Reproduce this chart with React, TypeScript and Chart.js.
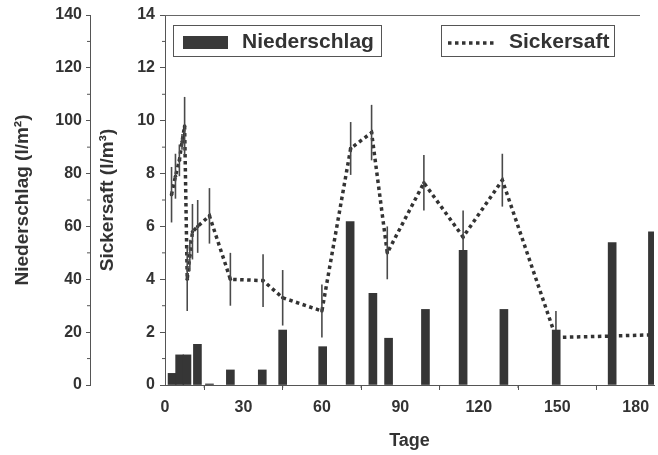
import React, { useEffect, useRef } from 'react';
import { Chart, registerables } from 'chart.js';

Chart.register(...registerables);

// Sickersaft (l/m³), dotted line with error bars
const sickerDays = [2.5, 4, 5.5, 6.5, 7.5, 8.5, 9.5, 10.5, 12.5, 17, 25, 37.5, 45, 60, 71, 79, 85, 99, 114, 129, 149.5, 170, 187];
const sickerValues = [7.2, 7.9, 8.5, 9.2, 9.8, 4.0, 4.9, 5.8, 6.0, 6.4, 4.0, 3.95, 3.3, 2.8, 8.95, 9.55, 5.0, 7.65, 5.6, 7.75, 1.8, 1.85, 1.9];
const sickerErrors = [1.05, 0.85, 0.6, 0.3, 1.1, 1.2, 0.6, 1.05, 1.0, 1.05, 1.0, 1.0, 1.05, 1.0, 1.0, 1.05, 1.0, 1.05, 1.0, 1.0, 1.0, 0, 0];

// Niederschlag (l/m²), bars
const rainDays = [2.7, 5.6, 8.4, 12.4, 17, 25, 37.2, 45, 60.3, 70.8, 79.5, 85.5, 99.6, 114, 129.6, 149.6, 171, 186.4];
const rainValues = [4.4, 11.4, 11.4, 15.4, 0.4, 5.7, 5.7, 20.8, 14.5, 61.8, 34.7, 17.7, 28.6, 51, 28.6, 20.8, 53.9, 58];

// Ticks
const dayTicks = [0, 30, 60, 90, 120, 150, 180];
const dayMinorTicks = [15, 45, 75, 105, 135, 165];
const sickerTicks = [0, 2, 4, 6, 8, 10, 12, 14];
const sickerMinorTicks = [1, 3, 5, 7, 9, 11, 13];
const rainTicks = [0, 20, 40, 60, 80, 100, 120, 140];
const rainMinorTicks = [10, 30, 50, 70, 90, 110, 130];

const labels = { rain: 'Niederschlag', sicker: 'Sickersaft', x: 'Tage', rainAxis: 'Niederschlag (l/m²)', sickerAxis: 'Sickersaft (l/m³)' };

const INK = '#333333';
const FONT = "'Liberation Sans', Arial, sans-serif";

const errorBarPlugin = {
  id: 'errorBars',
  afterDatasetDraw(chart: any, args: any) {
    if (args.index !== 1) return;
    const y = chart.scales.y;
    const ctx = chart.ctx;
    ctx.save();
    ctx.strokeStyle = '#4a4a4a';
    ctx.lineWidth = 1.6;
    args.meta.data.forEach((pt: any, i: number) => {
      const e = sickerErrors[i];
      if (!e) return;
      const v = sickerValues[i];
      ctx.beginPath();
      ctx.moveTo(pt.x, y.getPixelForValue(v + e));
      ctx.lineTo(pt.x, y.getPixelForValue(v - e));
      ctx.stroke();
    });
    ctx.restore();
  },
};

const decorPlugin = {
  id: 'decor',
  afterDraw(chart: any) {
    const ctx = chart.ctx;
    const { left, top, bottom } = chart.chartArea;
    const x = chart.scales.x;
    const y = chart.scales.y;
    const y2 = chart.scales.y2;
    ctx.save();
    // top frame line
    ctx.strokeStyle = '#666666';
    ctx.lineWidth = 1;
    ctx.beginPath();
    ctx.moveTo(left, top + 0.5);
    ctx.lineTo(640, top + 0.5);
    ctx.stroke();
    // minor ticks
    ctx.strokeStyle = '#555555';
    ctx.lineWidth = 1;
    dayMinorTicks.forEach((d) => {
      const px = x.getPixelForValue(d);
      ctx.beginPath();
      ctx.moveTo(px, bottom);
      ctx.lineTo(px, bottom + 3);
      ctx.stroke();
    });
    sickerMinorTicks.forEach((v) => {
      const py = y.getPixelForValue(v);
      ctx.beginPath();
      ctx.moveTo(y.right, py);
      ctx.lineTo(y.right - 3, py);
      ctx.stroke();
    });
    rainMinorTicks.forEach((v) => {
      const py = y2.getPixelForValue(v);
      ctx.beginPath();
      ctx.moveTo(y2.right, py);
      ctx.lineTo(y2.right - 3, py);
      ctx.stroke();
    });
    // legend boxes
    ctx.strokeStyle = '#555555';
    ctx.lineWidth = 1;
    ctx.strokeRect(173.5, 25.5, 208, 31);
    ctx.strokeRect(441.5, 25.5, 173, 31);
    ctx.fillStyle = '#3a3a3a';
    ctx.fillRect(183, 36, 45, 13);
    ctx.strokeStyle = INK;
    ctx.lineWidth = 3.5;
    ctx.setLineDash([3.5, 3.5]);
    ctx.beginPath();
    ctx.moveTo(448, 43);
    ctx.lineTo(497, 43);
    ctx.stroke();
    ctx.setLineDash([]);
    ctx.fillStyle = INK;
    ctx.font = `bold 21px ${FONT}`;
    ctx.textBaseline = 'middle';
    ctx.textAlign = 'left';
    ctx.fillText(labels.rain, 242, 42);
    ctx.fillText(labels.sicker, 509, 42);
    ctx.restore();
  },
};

export default function App() {
  const ref = useRef<HTMLCanvasElement | null>(null);

  useEffect(() => {
    if (!ref.current) return;
    const tickFont = { family: FONT, size: 16, weight: 'bold' as const };
    const titleFont = { family: FONT, size: 19, weight: 'bold' as const };
    const chart = new Chart(ref.current, {
      type: 'line',
      data: {
        datasets: [
          {
            type: 'bar',
            label: labels.rain,
            data: rainDays.map((d, i) => ({ x: d, y: rainValues[i] })),
            yAxisID: 'y2',
            backgroundColor: '#363636',
            barThickness: 8,
            grouped: false,
            order: 0,
          } as any,
          {
            type: 'line',
            label: labels.sicker,
            data: sickerDays.map((d, i) => ({ x: d, y: sickerValues[i] })),
            yAxisID: 'y',
            borderColor: INK,
            borderWidth: 3.5,
            borderDash: [3.5, 3.5],
            pointRadius: 1.8,
            pointBackgroundColor: INK,
            pointBorderWidth: 0,
            tension: 0,
            fill: false,
            order: 1,
          } as any,
        ],
      },
      options: {
        responsive: false,
        animation: false,
        layout: { padding: { top: 15, right: 4, bottom: 0, left: 0 } },
        plugins: { legend: { display: false }, tooltip: { enabled: false } },
        scales: {
          x: {
            type: 'linear',
            min: 0,
            max: 187,
            offset: false,
            afterBuildTicks: (s: any) => { s.ticks = dayTicks.map((v) => ({ value: v })); },
            afterFit: (s: any) => { s.height = 70; },
            ticks: { font: tickFont, color: INK, padding: 8, maxRotation: 0 },
            grid: { drawOnChartArea: false, drawTicks: true, tickLength: 5, color: '#555' },
            border: { display: true, color: '#555', width: 1 },
            title: { display: true, text: labels.x, font: { ...titleFont, size: 18 }, color: INK, padding: { top: 0, bottom: 3 } },
          },
          y: {
            type: 'linear',
            position: 'left',
            weight: 0,
            min: 0,
            max: 14,
            afterBuildTicks: (s: any) => { s.ticks = sickerTicks.map((v) => ({ value: v })); },
            afterFit: (s: any) => { s.width = 75; },
            ticks: { font: tickFont, color: INK, padding: 5 },
            grid: { drawOnChartArea: false, drawTicks: true, tickLength: 5, color: '#555' },
            border: { display: true, color: '#555', width: 1 },
            title: { display: true, text: labels.sickerAxis, font: titleFont, color: INK, padding: { top: 6, bottom: 0 } },
          },
          y2: {
            type: 'linear',
            position: 'left',
            weight: 1,
            min: 0,
            max: 140,
            afterBuildTicks: (s: any) => { s.ticks = rainTicks.map((v) => ({ value: v })); },
            afterFit: (s: any) => { s.width = 90; },
            ticks: { font: tickFont, color: INK, padding: 4 },
            grid: { drawOnChartArea: false, drawTicks: true, tickLength: 4, color: '#555' },
            border: { display: true, color: '#555', width: 1 },
            title: { display: true, text: labels.rainAxis, font: titleFont, color: INK, padding: { top: 11, bottom: 0 } },
          },
        },
      } as any,
      plugins: [errorBarPlugin, decorPlugin],
    });
    return () => chart.destroy();
  }, []);

  return (
    <div style={{ position: 'absolute', left: 0, top: 0, width: 658, height: 455, background: '#fff' }}>
      <canvas ref={ref} width={658} height={455} style={{ width: 658, height: 455 }} />
    </div>
  );
}
